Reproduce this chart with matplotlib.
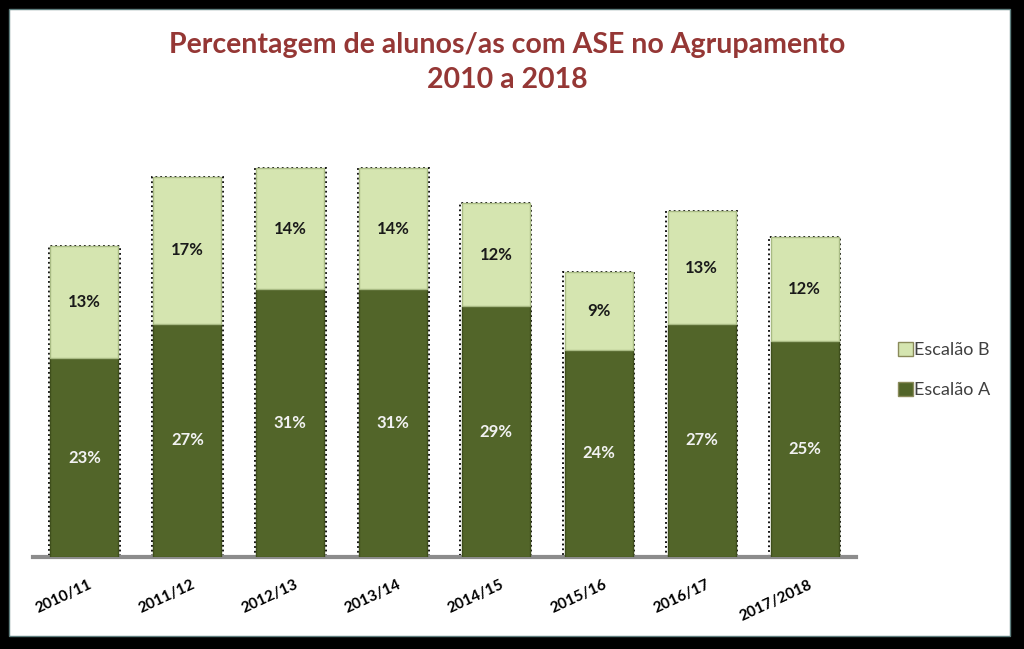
import matplotlib
matplotlib.use("Agg")
from matplotlib import pyplot as plt
from matplotlib.patches import Rectangle, Patch
import matplotlib.transforms as mtrans

anos = ['2010/11', '2011/12', '2012/13', '2013/14', '2014/15', '2015/16', '2016/17', '2017/2018']
escalao_a = [23, 27, 31, 31, 29, 24, 27, 25]
escalao_b = [13, 17, 14, 14, 12, 9, 13, 12]

cor_a = '#526529'
cor_b = '#d5e5b0'
cor_titulo = '#953735'

plt.rcParams['font.family'] = ['Lato', 'DejaVu Sans']

fig = plt.figure(figsize=(10.24, 6.49), dpi=100)
fig.patch.set_facecolor('black')
# fundo branco dentro da moldura preta
fig.patches.append(Rectangle((9/1024, 13/649), 1001/1024, 627/649,
                             transform=fig.transFigure, facecolor='white',
                             edgecolor='#5f7f7f', linewidth=1, zorder=-10))

ax = fig.add_axes([33/1024, 92/649, 823/1024, 432/649])
ax.set_facecolor('none')

x = list(range(len(anos)))
largura = 0.66

ax.bar(x, escalao_a, width=largura, color=cor_a, edgecolor='#3f4f1c',
       linewidth=1, label='Escalão A', zorder=3)
ax.bar(x, escalao_b, width=largura, bottom=escalao_a, color=cor_b,
       edgecolor='#a9bb84', linewidth=1, label='Escalão B', zorder=3)

# contorno pontilhado (sombra) em volta das barras
totais = [a + b for a, b in zip(escalao_a, escalao_b)]
ax.bar(x, totais, width=largura + 0.03, fill=False, edgecolor='black',
       linestyle=':', linewidth=1.3, zorder=2)

for i in x:
    ax.text(i, escalao_a[i] / 2, '%d%%' % escalao_a[i], ha='center', va='center',
            color='#f2f2f2', fontsize=12, fontweight='bold', zorder=5)
    ax.text(i, escalao_a[i] + escalao_b[i] / 2, '%d%%' % escalao_b[i], ha='center',
            va='center', color='#1a1a1a', fontsize=12, fontweight='bold', zorder=5)

ax.set_xlim(-0.5, 7.5)
ax.set_ylim(0, 50)
ax.set_yticks([])
for lado in ['top', 'right', 'left']:
    ax.spines[lado].set_visible(False)
ax.spines['bottom'].set_color('#8c8c8c')
ax.spines['bottom'].set_linewidth(3)

ax.set_xticks(x)
ax.set_xticklabels(anos, rotation=25, ha='right', rotation_mode='anchor',
                   fontsize=11, fontweight='bold', color='black')
ax.tick_params(axis='x', length=0, pad=15)
desloc = mtrans.ScaledTranslation(0.04, 0, fig.dpi_scale_trans)
for lbl in ax.get_xticklabels():
    lbl.set_transform(lbl.get_transform() + desloc)

fig.text(507/1024, 1 - 45/649, 'Percentagem de alunos/as com ASE no Agrupamento',
         ha='center', va='center', fontsize=20.5, fontweight='bold', color=cor_titulo)
fig.text(507/1024, 1 - 80/649, '2010 a 2018',
         ha='center', va='center', fontsize=20.5, fontweight='bold', color=cor_titulo)

handles = [Patch(facecolor=cor_b, edgecolor='#8a8a5a', label='Escalão B'),
           Patch(facecolor=cor_a, edgecolor='#8a8a5a', label='Escalão A')]
fig.legend(handles=handles, loc='center left', bbox_to_anchor=(882/1024, 1 - 370/649),
           frameon=False, fontsize=13, handlelength=0.8, handleheight=0.8,
           handletextpad=0.1, labelspacing=1.3, labelcolor='#404040')

plt.savefig('out.png', dpi=100, facecolor=fig.get_facecolor())
